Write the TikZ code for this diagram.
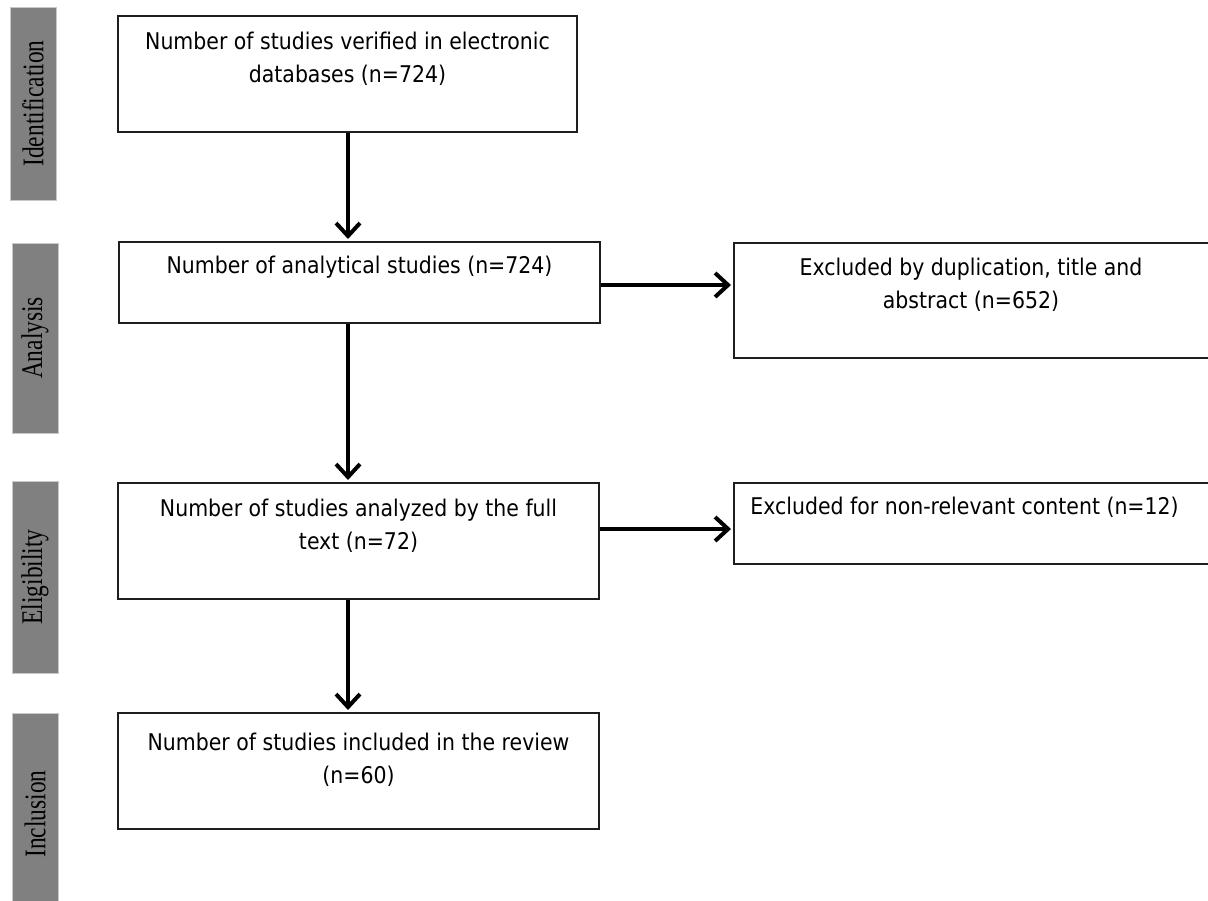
\documentclass[tikz,border=0pt]{standalone}
\usepackage{fontspec}
\usepackage{tikz}
\usetikzlibrary{arrows.meta,positioning}
\newfontfamily\boxfont{DejaVu Sans}[FakeStretch=0.89]
\newfontfamily\stagefont{Liberation Serif}[FakeStretch=0.78]
\definecolor{StageGray}{HTML}{808080}
\definecolor{StageEdge}{HTML}{C8C8C8}
\definecolor{BoxEdge}{HTML}{1E1E1E}

\begin{document}
\begin{tikzpicture}[x=0.5pt, y=-0.5pt,
      flow/.style={-{Straight Barb[length=6.5pt,width=12pt]}, line width=2pt, black, shorten >=1pt},
      box/.style={draw=BoxEdge, line width=1pt, anchor=north west, inner sep=0pt},
      txt/.style={inner sep=0pt, align=center, font=\boxfont\fontsize{11.5}{16.5}\selectfont, color=black},
      stage/.style={draw=StageEdge, line width=0.5pt, fill=StageGray, rotate=90, inner sep=0pt,
        minimum height=23pt, font=\stagefont\fontsize{15}{18}\selectfont, text=black}]
  \useasboundingbox (0,0) rectangle (1208,900);

  % phase bars on the left
  \node[stage, minimum width=96.5pt] (identstage) at (33,103.5) {Identification};
  \node[stage, minimum width=95pt] (analysisstage) at (35,338) {Analysis};
  \node[stage, minimum width=96pt] (eligstage) at (35,577) {Eligibility};
  \node[stage, minimum width=101pt] (inclstage) at (35,814) {Inclusion};

  % boxes
  \node[box, minimum width=229.5pt, minimum height=58pt] (ident) at (117,15) {};
  \node[box, minimum width=240.5pt, minimum height=40.5pt] (analysis) at (118,241) {};
  \node[box, minimum width=240.5pt, minimum height=58pt] (elig) at (117,482) {};
  \node[box, minimum width=240.5pt, minimum height=58pt] (incl) at (117,712) {};
  \node[box, minimum width=241pt, minimum height=57.5pt] (duplic) at (733,242) {};
  \node[box, minimum width=241pt, minimum height=40.5pt] (nonrel) at (733,482) {};

  \node[txt, below=8.5pt of ident.north] (identtext) {Number of studies verified in electronic\\databases (n=724)};
  \node[txt, below=7.5pt of analysis.north] (analysistext) {Number of analytical studies (n=724)};
  \node[txt, below=8.5pt of elig.north] (eligtext) {Number of studies analyzed by the full\\text (n=72)};
  \node[txt, below=10.5pt of incl.north] (incltext) {Number of studies included in the review\\(n=60)};
  \node[txt, below=8pt of duplic.north, xshift=-2pt] (duplictext) {Excluded by duplication, title and\\abstract (n=652)};
  \node[txt, below right=7.5pt and 8.5pt of nonrel.north west] (nonreltext) {Excluded for non-relevant content (n=12)};

  % connectors
  \coordinate (spine) at (348,0);
  \coordinate (rowA) at (0,285);
  \coordinate (rowB) at (0,529);
  \draw[flow] (ident.south -| spine) -- (analysis.north -| spine);
  \draw[flow] (analysis.south -| spine) -- (elig.north -| spine);
  \draw[flow] (elig.south -| spine) -- (incl.north -| spine);
  \draw[flow] (analysis.east |- rowA) -- (duplic.west |- rowA);
  \draw[flow] (elig.east |- rowB) -- (nonrel.west |- rowB);
\end{tikzpicture}
\end{document}
